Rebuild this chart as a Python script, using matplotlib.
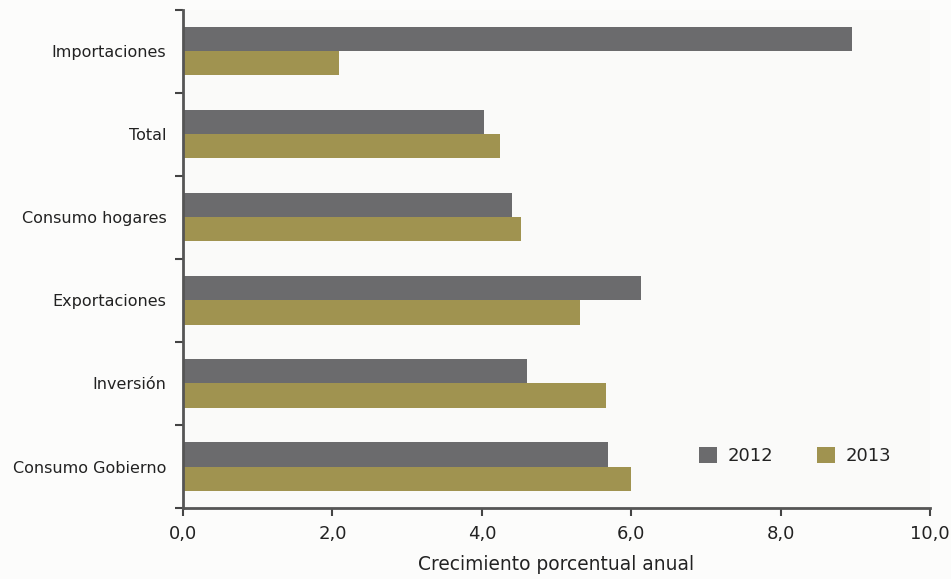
import matplotlib
matplotlib.use("Agg")
import matplotlib.pyplot as plt
import numpy as np

plt.rcParams["font.family"] = ["DejaVu Sans"]

categories = ["Consumo Gobierno", "Inversión", "Exportaciones", "Consumo hogares", "Total", "Importaciones"]
values_2012 = [5.69, 4.61, 6.13, 4.40, 4.03, 8.95]
values_2013 = [6.00, 5.66, 5.32, 4.53, 4.24, 2.09]
series_labels = ["2012", "2013"]
xticks = [0, 2, 4, 6, 8, 10]
xtick_labels = ["0,0", "2,0", "4,0", "6,0", "8,0", "10,0"]
xlabel = "Crecimiento porcentual anual"

c2012 = "#6b6b6d"
c2013 = "#a09350"

fig = plt.figure(figsize=(9.51, 5.79), dpi=100, facecolor="#fcfcfb")
ax = fig.add_axes([0.1924, 0.1226, 0.7856, 0.8604])
ax.set_facecolor("#fafaf9")

y = np.arange(len(categories))
h = 0.29
ax.barh(y + h / 2, values_2012, height=h, color=c2012, label=series_labels[0])
ax.barh(y - h / 2, values_2013, height=h, color=c2013, label=series_labels[1])

ax.set_xlim(0, 10)
ax.set_ylim(-0.5, len(categories) - 0.5)
ax.set_xticks(xticks)
ax.set_xticklabels(xtick_labels, fontsize=13, color="#222222")
ax.set_yticks(y)
ax.set_yticklabels(categories, fontsize=11.5, color="#222222")
ax.set_yticks(np.arange(-0.5, len(categories), 1.0), minor=True)
ax.tick_params(axis="y", which="major", length=0, pad=12)
ax.tick_params(axis="y", which="minor", length=6, width=1.5, color="#444444", direction="out")
ax.tick_params(axis="x", which="major", length=6, width=1.5, color="#444444", direction="out", pad=6)

for s in ["top", "right"]:
    ax.spines[s].set_visible(False)
for s in ["left", "bottom"]:
    ax.spines[s].set_color("#555555")
    ax.spines[s].set_linewidth(2)

ax.set_xlabel(xlabel, fontsize=13.4, color="#222222", labelpad=9)

ax.legend(loc="lower right", bbox_to_anchor=(0.970, 0.053), ncol=2, frameon=False,
          fontsize=13, handlelength=1.0, handleheight=1.0, columnspacing=2.4,
          handletextpad=0.6, labelcolor="#222222")

fig.savefig("out.png", dpi=100, facecolor=fig.get_facecolor())
